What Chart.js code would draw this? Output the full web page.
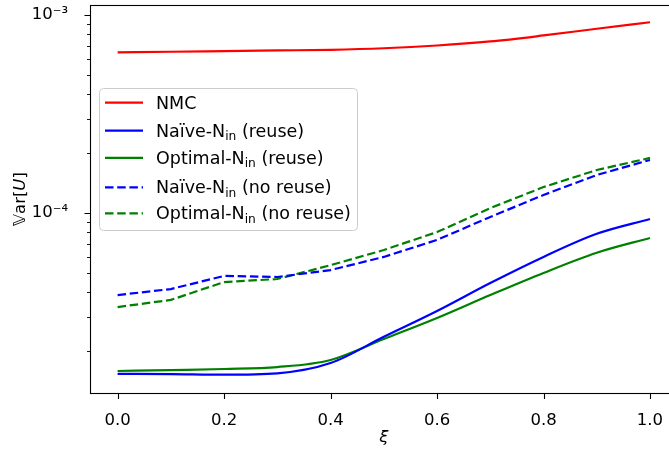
<!DOCTYPE html>
<html><head><meta charset="utf-8">
<script src="https://cdn.jsdelivr.net/npm/chart.js@4.4.0/dist/chart.umd.min.js"></script>
<style>
html,body{margin:0;padding:0;overflow:hidden;background:#fff;}
#wrap{width:680px;height:449px;}
</style></head>
<body><div id="wrap"><canvas id="c" width="680" height="449"></canvas></div>
<script>
// ---- data ----
const xi = [0.0, 0.1, 0.2, 0.3, 0.4, 0.5, 0.6, 0.7, 0.8, 0.9, 1.0];
const nmc = [6.48e-4, 6.52e-4, 6.57e-4, 6.62e-4, 6.67e-4, 6.79e-4, 7.01e-4, 7.35e-4, 7.88e-4, 8.52e-4, 9.19e-4];
const naiveReuse = [1.54e-5, 1.535e-5, 1.525e-5, 1.55e-5, 1.746e-5, 2.37e-5, 3.20e-5, 4.43e-5, 6.0e-5, 7.85e-5, 9.33e-5];
const optimalReuse = [1.592e-5, 1.61e-5, 1.63e-5, 1.667e-5, 1.81e-5, 2.31e-5, 2.95e-5, 3.85e-5, 4.98e-5, 6.3e-5, 7.48e-5];
const naiveNoReuse = [3.85e-5, 4.13e-5, 4.81e-5, 4.75e-5, 5.15e-5, 6.0e-5, 7.31e-5, 9.55e-5, 1.233e-4, 1.556e-4, 1.853e-4];
const optimalNoReuse = [3.35e-5, 3.64e-5, 4.48e-5, 4.64e-5, 5.45e-5, 6.5e-5, 8.01e-5, 1.059e-4, 1.352e-4, 1.648e-4, 1.897e-4];
const xTicks = [0.0, 0.2, 0.4, 0.6, 0.8, 1.0];
const yMajorTicks = [1e-4, 1e-3];
const yMinorTicks = [2e-5, 3e-5, 4e-5, 5e-5, 6e-5, 7e-5, 8e-5, 9e-5, 2e-4, 3e-4, 4e-4, 5e-4, 6e-4, 7e-4, 8e-4, 9e-4];
const seriesLabels = ["NMC", "Naïve-N_in (reuse)", "Optimal-N_in (reuse)", "Naïve-N_in (no reuse)", "Optimal-N_in (no reuse)"];
// legend label parts: [main, subscript, rest]
const legendParts = [["NMC", "", ""], ["Naïve-N", "in", " (reuse)"], ["Optimal-N", "in", " (reuse)"], ["Naïve-N", "in", " (no reuse)"], ["Optimal-N", "in", " (no reuse)"]];
const xLabel = "ξ";
const yLabelParts = ["𝕍ar[", "U", "]"];

const FAM = '"DejaVu Sans", "Noto Sans", sans-serif';
const FS = 16.5;
const LFS = 17.5;
const DASH = [8.5, 3.7];

function mk(data, label, color, dashed, smooth) {
  return {
    label: label,
    data: xi.map((x, i) => ({x: x, y: data[i]})),
    borderColor: color, backgroundColor: color,
    borderWidth: 2.2, pointRadius: 0, pointHoverRadius: 0,
    borderDash: dashed ? DASH : [],
    cubicInterpolationMode: smooth ? 'monotone' : 'default',
    tension: 0, fill: false, borderCapStyle: 'butt'
  };
}

function noPad(s) { s.paddingTop = 0; s.paddingBottom = 0; s.paddingLeft = 0; s.paddingRight = 0; }

const decor = {
  id: 'decor',
  afterDatasetsDraw(chart) {
    const {ctx, chartArea: a, scales: {x, y}} = chart;
    ctx.save();
    ctx.strokeStyle = '#000';
    ctx.lineWidth = 1.1;
    ctx.strokeRect(a.left - 0.5, a.top + 0.5, a.right - a.left + 10, a.bottom - a.top);
    ctx.beginPath();
    xTicks.forEach(v => {
      const px = Math.round(x.getPixelForValue(v)) + 0.5;
      ctx.moveTo(px, a.bottom); ctx.lineTo(px, a.bottom + 6);
    });
    yMajorTicks.forEach(v => {
      const py = Math.round(y.getPixelForValue(v)) + 0.5;
      ctx.moveTo(a.left - 0.5, py); ctx.lineTo(a.left - 6.5, py);
    });
    ctx.stroke();
    ctx.lineWidth = 0.9;
    ctx.beginPath();
    yMinorTicks.forEach(v => {
      const py = Math.round(y.getPixelForValue(v)) + 0.5;
      ctx.moveTo(a.left - 0.5, py); ctx.lineTo(a.left - 4, py);
    });
    ctx.stroke();
    ctx.restore();
  },
  afterDraw(chart) {
    const {ctx, chartArea: a} = chart;
    ctx.save();
    // y-axis title
    ctx.translate(20.5, (a.top + a.bottom) / 2);
    ctx.rotate(-Math.PI / 2);
    ctx.fillStyle = '#000';
    ctx.textBaseline = 'middle';
    const fN = `${FS}px ${FAM}`, fI = `italic ${FS}px ${FAM}`;
    ctx.font = fN; const w0 = ctx.measureText(yLabelParts[0]).width, w2 = ctx.measureText(yLabelParts[2]).width;
    ctx.font = fI; const w1 = ctx.measureText(yLabelParts[1]).width;
    let sx = -(w0 + w1 + w2) / 2;
    ctx.font = fN; ctx.fillText(yLabelParts[0], sx, 0); sx += w0;
    ctx.font = fI; ctx.fillText(yLabelParts[1], sx, 0); sx += w1;
    ctx.font = fN; ctx.fillText(yLabelParts[2], sx, 0);
    ctx.restore();

    // legend
    ctx.save();
    const L = {x: 99.5, y: 88.5, w: 258, h: 142};
    ctx.beginPath();
    ctx.roundRect(L.x, L.y, L.w, L.h, 4);
    ctx.fillStyle = 'rgba(255,255,255,0.8)';
    ctx.fill();
    ctx.strokeStyle = '#cccccc';
    ctx.lineWidth = 1;
    ctx.stroke();
    const rows = [102.7, 130.7, 157.8, 187.3, 213.3];
    chart.data.datasets.forEach((ds, i) => {
      const ry = rows[i];
      ctx.beginPath();
      ctx.setLineDash(ds.borderDash || []);
      ctx.strokeStyle = ds.borderColor;
      ctx.lineWidth = ds.borderWidth;
      ctx.moveTo(105, ry); ctx.lineTo(143, ry);
      ctx.stroke();
      ctx.setLineDash([]);
      const p = legendParts[i];
      ctx.fillStyle = '#000';
      ctx.textBaseline = 'alphabetic';
      let tx = 156, by = ry + 6;
      ctx.font = `${LFS}px ${FAM}`;
      ctx.fillText(p[0], tx, by); tx += ctx.measureText(p[0]).width;
      if (p[1]) {
        ctx.font = `${LFS * 0.7}px ${FAM}`;
        ctx.fillText(p[1], tx, by + 3.5); tx += ctx.measureText(p[1]).width;
      }
      ctx.font = `${LFS}px ${FAM}`;
      ctx.fillText(p[2], tx, by);
    });
    ctx.restore();
  }
};

new Chart(document.getElementById('c'), {
  type: 'line',
  data: {
    datasets: [
      mk(nmc, seriesLabels[0], '#ff0000', false, true),
      mk(naiveReuse, seriesLabels[1], '#0000ff', false, true),
      mk(optimalReuse, seriesLabels[2], '#008000', false, true),
      mk(naiveNoReuse, seriesLabels[3], '#0000ff', true, false),
      mk(optimalNoReuse, seriesLabels[4], '#008000', true, false)
    ]
  },
  options: {
    responsive: false, animation: false, devicePixelRatio: 1,
    layout: {padding: {top: 5, right: 3.4, left: 0, bottom: 0}},
    plugins: {legend: {display: false}, tooltip: {enabled: false}},
    scales: {
      x: {
        type: 'linear', min: -0.05, max: 1.05,
        grid: {display: false},
        border: {display: false},
        afterBuildTicks: s => { s.ticks = xTicks.map(v => ({value: v})); },
        afterFit: s => { s.height = 56; noPad(s); },
        ticks: {
          color: '#000', padding: 10, maxRotation: 0, autoSkip: false,
          font: {family: FAM, size: FS},
          callback: v => Number(v).toFixed(1)
        },
        title: {display: true, text: xLabel, color: '#000', padding: {top: 0, bottom: 1},
                font: {family: FAM, size: FS, style: 'italic'}}
      },
      y: {
        type: 'logarithmic', min: 1.233e-5, max: 1.123e-3,
        grid: {display: false},
        border: {display: false},
        afterBuildTicks: s => { s.ticks = yMajorTicks.map(v => ({value: v, major: true})); },
        afterFit: s => { s.width = 91; noPad(s); },
        ticks: {
          color: '#000', padding: 15, autoSkip: false,
          font: {family: FAM, size: FS},
          callback: v => (Math.abs(v - 1e-3) < 1e-9 ? '10⁻³' : (Math.abs(v - 1e-4) < 1e-10 ? '10⁻⁴' : ''))
        }
      }
    }
  },
  plugins: [decor]
});
</script>
</body></html>
